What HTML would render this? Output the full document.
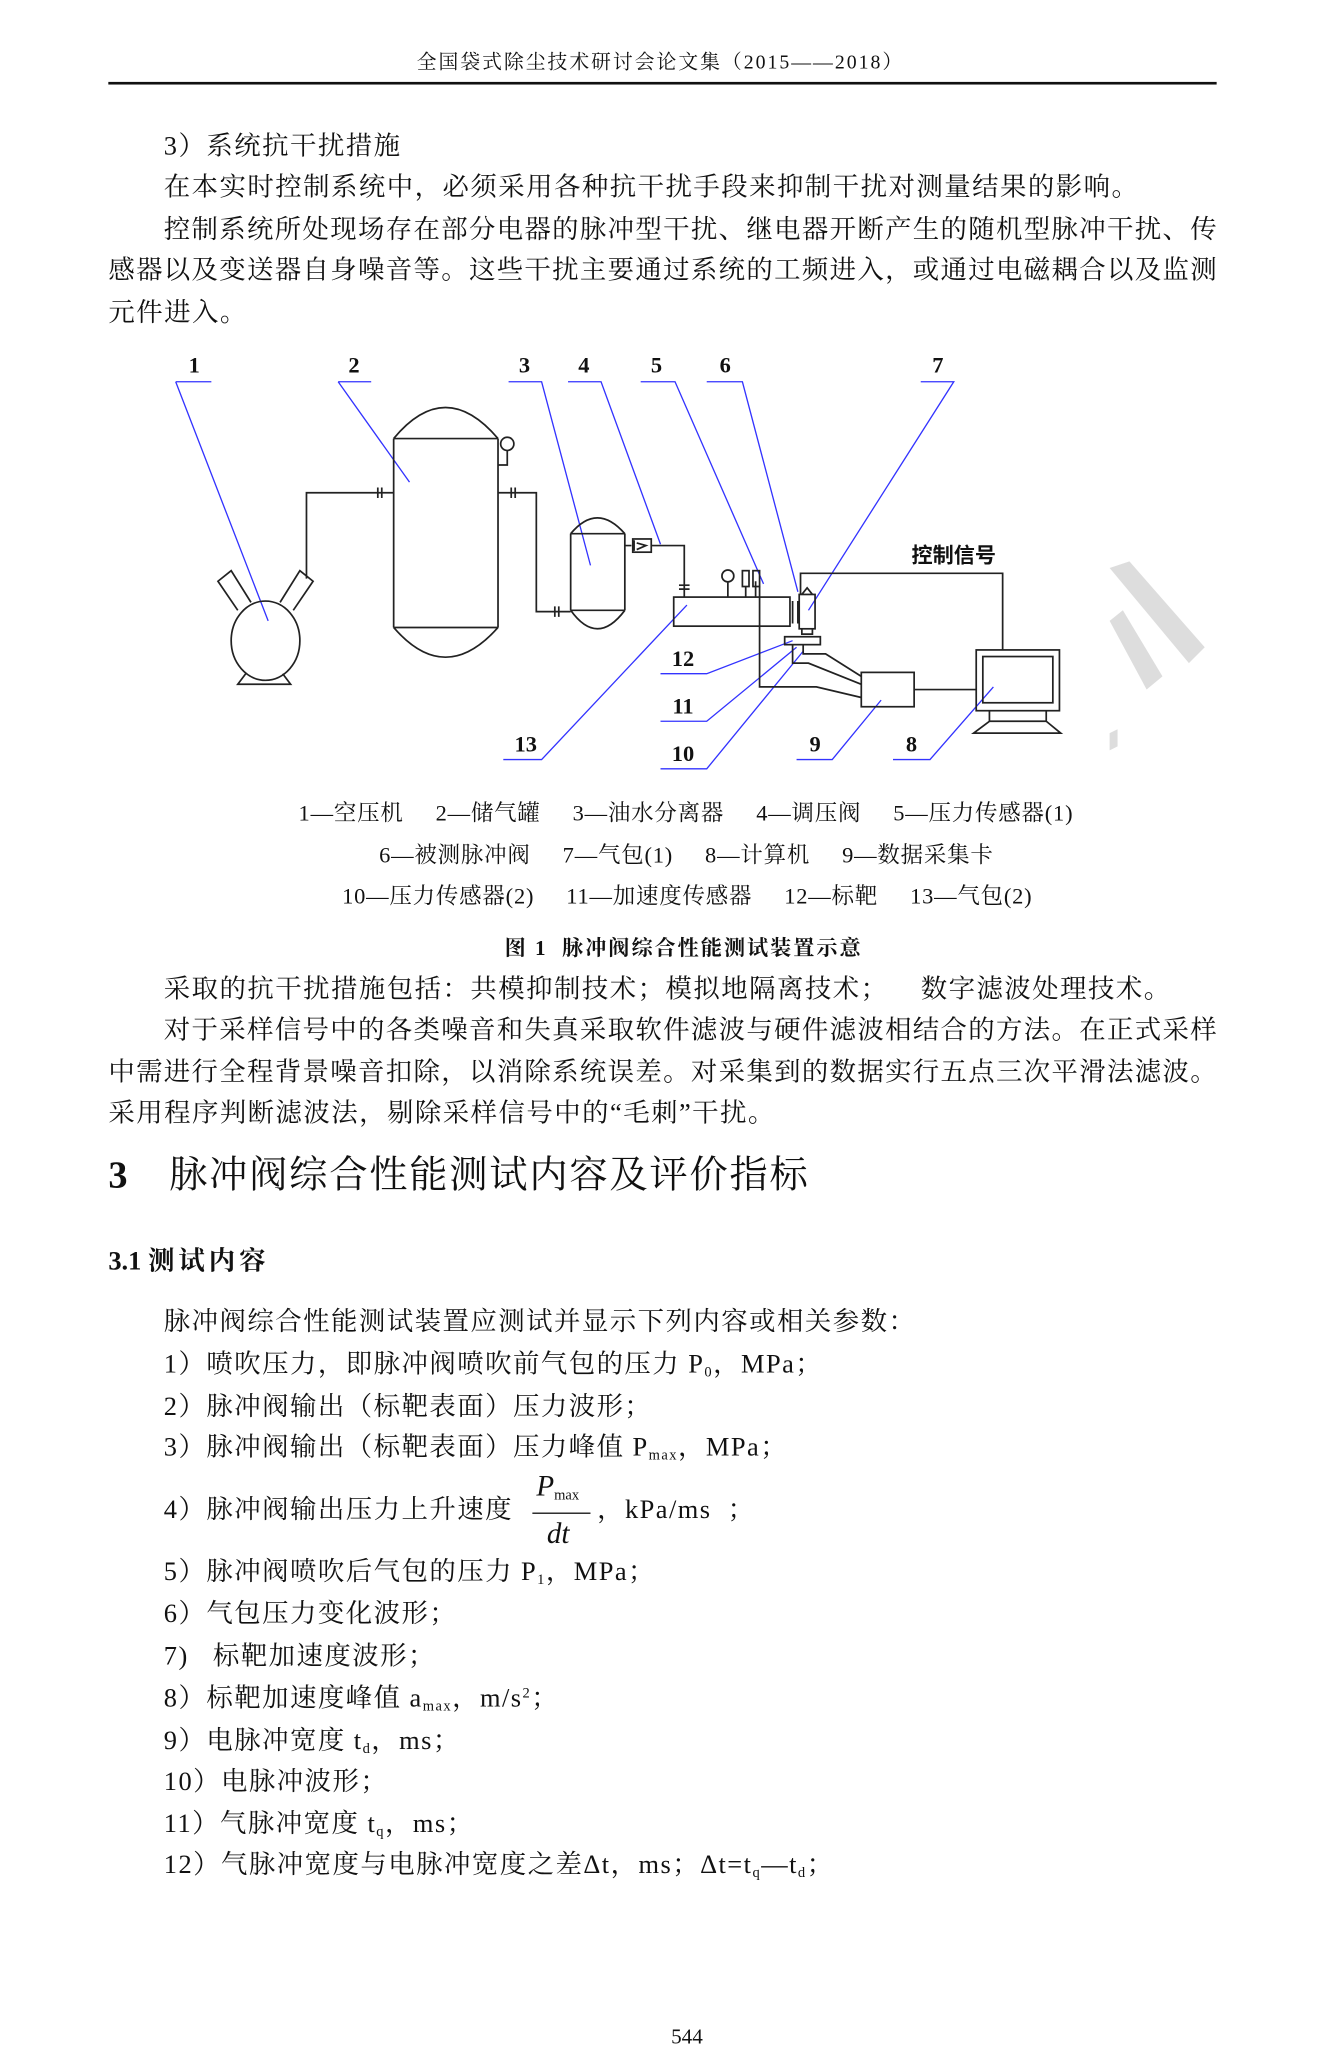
<!DOCTYPE html>
<html><head><meta charset="utf-8"><style>
html,body{margin:0;padding:0;background:#fff;}
body{width:1321px;height:2067px;overflow:hidden;position:relative;}
#p{position:absolute;left:0;top:0;width:1000px;height:1565px;transform:scale(1.321);transform-origin:0 0;font-family:"Liberation Serif","Noto Serif CJK SC",serif;color:#111;}
.l{position:absolute;white-space:nowrap;font-size:20px;line-height:24px;letter-spacing:1.1px;}
.j{text-align:justify;text-align-last:justify;white-space:normal;letter-spacing:0;}
.c{position:absolute;white-space:nowrap;font-size:17px;line-height:20px;letter-spacing:0.6px;}
sub{font-size:11px;vertical-align:-3px;line-height:0;}
sup{font-size:11px;vertical-align:7px;line-height:0;}
</style></head><body><div id="p">
<div class="l" style="left:0;width:1000px;text-align:center;top:36px;font-size:15px;letter-spacing:1.5px;">全国袋式除尘技术研讨会论文集（2015——2018）</div>
<div style="position:absolute;left:82px;top:62px;width:839px;height:2px;background:#111;"></div>

<div class="l" style="left:124px;top:99px;">3）系统抗干扰措施</div>
<div class="l" style="left:124px;top:130px;">在本实时控制系统中，必须采用各种抗干扰手段来抑制干扰对测量结果的影响。</div>
<div class="l j" style="left:124px;width:797px;top:162px;">控制系统所处现场存在部分电器的脉冲型干扰、继电器开断产生的随机型脉冲干扰、传</div>
<div class="l j" style="left:82px;width:839px;top:193px;">感器以及变送器自身噪音等。这些干扰主要通过系统的工频进入，或通过电磁耦合以及监测</div>
<div class="l" style="left:82px;top:225px;">元件进入。</div>

<svg style="position:absolute;left:0;top:0" width="1000" height="720" viewBox="0 0 1000 720">
<g fill="#ddd"><polygon points="840,430 855,425 912,490 900,502"/><polygon points="840,470 850,462 880,512 868,522"/><polygon points="840,555 846,552 846,565 840,568"/></g>
<g font-family="Liberation Serif,serif" font-weight="bold" font-size="17" text-anchor="middle" fill="#111">
<text x="147" y="282">1</text><text x="268" y="282">2</text><text x="397" y="282">3</text><text x="442" y="282">4</text><text x="497" y="282">5</text><text x="549" y="282">6</text><text x="710" y="282">7</text>
<text x="517" y="504">12</text><text x="517" y="540">11</text><text x="517" y="576">10</text><text x="398" y="569">13</text><text x="617" y="569">9</text><text x="690" y="569">8</text>
</g>
<text x="722" y="426" font-family="Noto Sans CJK SC,sans-serif" font-weight="bold" font-size="16" text-anchor="middle" fill="#111">控制信号</text>
<g stroke="#33f" stroke-width="1" fill="none">
<path d="M133 289H160M133 289L203 470"/><path d="M256 289H281M256 289L310 365"/><path d="M385 289H410L447 428"/><path d="M430 289H455L500 412"/><path d="M485 289H511L578 442"/><path d="M535 289H562L604 448"/><path d="M697 289H722L612 462"/>
<path d="M500 510H535L600 485"/><path d="M500 546H535L603 490"/><path d="M500 582H535L608 493"/><path d="M381 575H410L520 458"/><path d="M603 575H630L667 530"/><path d="M676 575H704L752 520"/>
</g>
<g stroke="#222" stroke-width="1.3" fill="none">
<ellipse cx="201" cy="485" rx="26" ry="30"/>
<path d="M180 462L165 440L175 432L190 456M222 462L237 440L227 432L212 456"/>
<path d="M186 510L180 518H220L214 510"/>
<path d="M232 438V373H298M286 369V377M289 369V377"/>
<path d="M298 332Q337 285 377 332M298 332H377M298 475H377M298 475Q337 520 377 475M298 332V475M377 332V475"/>
<circle cx="384" cy="336" r="5"/><path d="M377 352H384V341"/>
<path d="M377 373H406V463H432M387 369V377M390 369V377M420 459V467M423 459V467"/>
<path d="M432 404Q452 380 473 404M432 404H473M432 462H473M432 462Q452 490 473 462M432 404V462M473 404V462"/>
<path d="M473 413H478M480 409V417"/><rect x="479" y="408" width="14" height="10"/><path d="M482 411L489 413L482 416"/>
<path d="M493 413H518V452M514 443H522M514 446H522"/>
<rect x="510" y="452" width="88" height="22"/>
<circle cx="551" cy="436" r="4.5"/><path d="M551 441V452"/><rect x="562" y="432" width="5" height="12"/><path d="M564.5 444V452"/><rect x="570" y="432" width="5" height="12"/><path d="M575 444V520H618L652 528M572 440V452"/>
<path d="M600 455V472M604 455V472"/>
<rect x="605" y="450" width="12" height="26"/><path d="M607 450L611 445L615 450M607 476V480H615V476"/>
<path d="M606 450V434H759V492"/>
<rect x="594" y="482" width="27" height="6"/>
<path d="M600 488V502H612L652 518M608 488V495H625L652 512"/>
<rect x="652" y="509" width="40" height="26"/>
<path d="M692 522H739"/>
<rect x="739" y="492" width="63" height="46"/><rect x="744" y="497" width="53" height="35"/>
<path d="M749 538V546H792V538M749 546L737 555H803L792 546"/>
</g>
</svg>

<div class="c" style="left:226px;top:606px;">1—空压机&nbsp;&nbsp;&nbsp;&nbsp;&nbsp;2—储气罐&nbsp;&nbsp;&nbsp;&nbsp;&nbsp;3—油水分离器&nbsp;&nbsp;&nbsp;&nbsp;&nbsp;4—调压阀&nbsp;&nbsp;&nbsp;&nbsp;&nbsp;5—压力传感器(1)</div>
<div class="c" style="left:287px;top:638px;">6—被测脉冲阀&nbsp;&nbsp;&nbsp;&nbsp;&nbsp;7—气包(1)&nbsp;&nbsp;&nbsp;&nbsp;&nbsp;8—计算机&nbsp;&nbsp;&nbsp;&nbsp;&nbsp;9—数据采集卡</div>
<div class="c" style="left:259px;top:669px;">10—压力传感器(2)&nbsp;&nbsp;&nbsp;&nbsp;&nbsp;11—加速度传感器&nbsp;&nbsp;&nbsp;&nbsp;&nbsp;12—标靶&nbsp;&nbsp;&nbsp;&nbsp;&nbsp;13—气包(2)</div>
<div class="c" style="left:382px;top:709px;font-size:16px;font-weight:bold;letter-spacing:1.5px;">图 1&nbsp;&nbsp;脉冲阀综合性能测试装置示意</div>

<div class="l" style="left:124px;top:737px;">采取的抗干扰措施包括：共模抑制技术；模拟地隔离技术；&nbsp;&nbsp;&nbsp;&nbsp;数字滤波处理技术。</div>
<div class="l j" style="left:124px;width:797px;top:768px;">对于采样信号中的各类噪音和失真采取软件滤波与硬件滤波相结合的方法。在正式采样</div>
<div class="l j" style="left:82px;width:839px;top:800px;">中需进行全程背景噪音扣除，以消除系统误差。对采集到的数据实行五点三次平滑法滤波。</div>
<div class="l" style="left:82px;top:831px;">采用程序判断滤波法，剔除采样信号中的“毛刺”干扰。</div>

<div class="l" style="left:82px;top:873px;font-size:29px;line-height:34px;font-weight:bold;">3</div>
<div class="l" style="left:128px;top:873px;font-size:29px;line-height:34px;letter-spacing:1.3px;">脉冲阀综合性能测试内容及评价指标</div>
<div class="l" style="left:82px;top:943px;font-weight:bold;letter-spacing:0;">3.1 <span style="letter-spacing:3px;">测试内容</span></div>

<div class="l" style="left:124px;top:989px;">脉冲阀综合性能测试装置应测试并显示下列内容或相关参数：</div>
<div class="l" style="left:124px;top:1021px;">1）喷吹压力，即脉冲阀喷吹前气包的压力 P<sub>0</sub>，MPa；</div>
<div class="l" style="left:124px;top:1053px;">2）脉冲阀输出（标靶表面）压力波形；</div>
<div class="l" style="left:124px;top:1084px;">3）脉冲阀输出（标靶表面）压力峰值 P<sub>max</sub>，MPa；</div>
<div class="l" style="left:124px;top:1131px;">4）脉冲阀输出压力上升速度</div>
<div class="l" style="left:406px;top:1113px;font-style:italic;font-size:22px;letter-spacing:0;">P<sub style="font-style:normal">max</sub></div>
<div style="position:absolute;left:403px;top:1145px;width:44px;height:1px;background:#111;"></div>
<div class="l" style="left:414px;top:1149px;font-style:italic;font-size:22px;letter-spacing:0;">dt</div>
<div class="l" style="left:452px;top:1131px;">，kPa/ms&nbsp;&nbsp;；</div>
<div class="l" style="left:124px;top:1178px;">5）脉冲阀喷吹后气包的压力 P<sub>1</sub>，MPa；</div>
<div class="l" style="left:124px;top:1210px;">6）气包压力变化波形；</div>
<div class="l" style="left:124px;top:1242px;">7)&nbsp;&nbsp;&nbsp;标靶加速度波形；</div>
<div class="l" style="left:124px;top:1274px;">8）标靶加速度峰值 a<sub>max</sub>，m/s<sup>2</sup>；</div>
<div class="l" style="left:124px;top:1306px;">9）电脉冲宽度 t<sub>d</sub>，ms；</div>
<div class="l" style="left:124px;top:1337px;">10）电脉冲波形；</div>
<div class="l" style="left:124px;top:1369px;">11）气脉冲宽度 t<sub>q</sub>，ms；</div>
<div class="l" style="left:124px;top:1400px;">12）气脉冲宽度与电脉冲宽度之差Δt，ms；Δt=t<sub>q</sub>—t<sub>d</sub>；</div>

<div class="l" style="left:0;width:1040px;text-align:center;top:1531px;font-size:16px;letter-spacing:0;">544</div>
</div></body></html>
